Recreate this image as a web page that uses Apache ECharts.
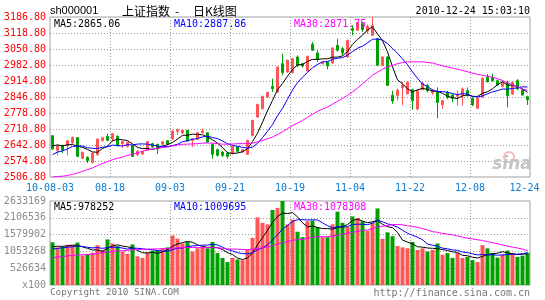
<!DOCTYPE html>
<html><head><meta charset="utf-8">
<script src="https://cdn.jsdelivr.net/npm/echarts@6/dist/echarts.min.js"></script>
<style>html,body{margin:0;padding:0;background:#fff}#c{width:545px;height:300px}</style>
</head><body><div id="c"></div>
<script>
// ---- data ----
const dates = ['08-03','08-04','08-05','08-06','08-09','08-10','08-11','08-12','08-13','08-16','08-17','08-18','08-19','08-20','08-23','08-24','08-25','08-26','08-27','08-30','08-31',
'09-01','09-02','09-03','09-06','09-07','09-08','09-09','09-10','09-13','09-14','09-15','09-16','09-17','09-20','09-21','09-27','09-28','09-29','09-30',
'10-08','10-11','10-12','10-13','10-14','10-15','10-18','10-19','10-20','10-21','10-22','10-25','10-26','10-27','10-28','10-29',
'11-01','11-02','11-03','11-04','11-05','11-08','11-09','11-10','11-11','11-12','11-15','11-16','11-17','11-18','11-19','11-22','11-23','11-24','11-25','11-26','11-29','11-30',
'12-01','12-02','12-03','12-06','12-07','12-08','12-09','12-10','12-13','12-14','12-15','12-16','12-17','12-20','12-21','12-22','12-23','12-24'];
const opens = [2682.5,2620.1,2640.0,2640.0,2651.3,2674.0,2586.1,2590.4,2569.1,2601.7,2661.2,2679.6,2668.3,2679.6,2647.1,2637.1,2640.0,2601.7,2604.5,2620.1,2648.5,2645.6,2645.6,2661.2,
2668.0,2701.0,2693.8,2705.1,2662.6,2666.9,2695.2,2695.2,2645.6,2622.9,2613.0,2608.8,2606.0,2634.3,2613.0,2603.1,2683.9,2761.8,2797.2,2846.8,2892.0,2868.1,2988.5,2953.0,
2950.2,3016.8,2988.5,2957.3,3070.6,3033.8,2988.5,2995.5,2991.3,3066.4,3052.2,3016.8,3137.2,3130.1,3158.5,3127.3,3108.9,3094.7,2981.4,3016.8,2853.9,2853.9,2886.5,2861.0,
2878.0,2795.8,2878.0,2895.0,2863.8,2866.6,2814.2,2866.6,2855.3,2849.6,2852.5,2873.7,2841.1,2798.6,2845.4,2930.4,2930.4,2916.2,2892.1,2906.3,2859.6,2916.2,2878.0,2848.2];
const closes = [2625.8,2640.0,2620.1,2661.2,2675.4,2594.6,2611.6,2576.2,2608.8,2668.3,2674.0,2662.6,2691.0,2640.0,2658.4,2654.1,2594.6,2615.9,2615.9,2657.0,2634.3,2625.8,2657.0,2647.1,
2702.0,2708.0,2705.1,2659.8,2669.7,2695.2,2702.3,2655.6,2603.1,2598.9,2598.9,2594.6,2637.1,2615.9,2622.9,2662.6,2747.6,2815.6,2849.6,2866.6,2882.0,2974.3,2950.2,3002.6,
3009.7,2981.4,2978.5,3019.6,3045.1,3006.9,2995.5,2978.5,3055.0,3045.1,3033.8,3087.6,3130.1,3162.7,3133.0,3147.1,3151.4,2981.4,3016.8,2896.4,2829.8,2875.1,2896.4,2910.6,
2831.2,2873.7,2906.3,2873.7,2876.6,2824.1,2831.2,2845.4,2841.1,2859.6,2880.8,2852.5,2812.8,2841.1,2926.1,2912.0,2916.2,2897.8,2909.1,2852.5,2909.1,2880.8,2855.3,2835.5];
const lows = [2623,2598.9,2608.8,2598.9,2648,2591,2583,2566.3,2563.5,2598,2658,2659,2657,2637,2630,2633,2591.8,2594.6,2600,2617,2631,2604.5,2643,2644,
2665,2685,2690,2657,2634.3,2664,2692,2652,2584.7,2594.6,2591.8,2584.7,2603,2612,2610,2600,2680,2758,2794,2843,2868,2865,2938.9,2950,
2947,2974.3,2972,2954,3042.3,2995,2985,2964,2988,3039.5,3023.9,3013,3109,3127,3123,3115,3105,2978,2978,2893,2818.5,2832.7,2811.4,2858,
2792.9,2790,2875,2866.6,2855,2756.1,2795.8,2838,2824.1,2810,2810,2849,2808,2795.8,2842,2909.1,2912,2894,2888,2802.9,2855,2877,2852,2812.8];
const highs = [2684,2642,2644,2664,2678,2676.8,2614,2594.6,2611,2670,2677,2691,2694,2684,2661,2657,2643,2623,2618,2660,2652,2648,2660,2664,
2706,2713,2708,2708,2672,2698,2712,2698,2650,2627,2616,2613,2640,2637,2626,2665,2750,2818,2852,2870,2924.7,2977,3031,3006,
3013,3023.9,2992,3023,3080.6,3045,2999,2999,3058,3094.7,3059,3091,3151.4,3166,3165.5,3155,3186.7,3098,3020,3020,2873.7,2882.3,2910.6,2914,
2882,2878,2910,2902,2880,2887.9,2834,2873.7,2859.6,2873.7,2887.9,2887.9,2845,2845,2930,2944.6,2944.6,2920,2912,2916.2,2912,2923,2882,2852.5];
const volumes = [1338000,1180000,1200000,1260000,1260000,1330000,927000,970000,1010000,1250000,1100000,1430000,1300000,1220000,1050000,980000,1270000,900000,850000,1020000,1080000,1100000,1150000,1180000,
1550000,1450000,1300000,1350000,1050000,1150000,1200000,1150000,1350000,1000000,850000,720000,850000,800000,780000,1100000,1480000,2120000,1950000,1900000,2350000,2420000,2633169,1900000,
2050000,1670000,1500000,2000000,2020000,1820000,1500000,1500000,1900000,2300000,1950000,1820000,2150000,2100000,2000000,1700000,1950000,2400000,1450000,1650000,1530000,1220000,1180000,1150000,
1350000,1100000,1150000,1050000,1100000,1300000,950000,1000000,850000,1000000,850000,880000,780000,720000,1250000,1150000,1000000,860000,950000,1080000,1000000,880000,920000,1010000];
// sessions before the window, needed only for the moving averages at the left edge
const priorCloses = [2588,2586,2553,2535,2427,2398,2373,2382,2363,2409,2421,2448,2470,2492,2441,2458,2424,2424,2475,2528,2528,2575,2572,2573,2575,2617,2642,2637,2672];
const priorVolumes = [620000,580000,660000,700000,950000,800000,700000,620000,550000,640000,660000,720000,780000,820000,700000,680000,620000,700000,840000,950000,
1020000,1000000,1080000,1120000,1080000,1100000,1220000,1180000,1160000];
const priceTickLabels = ['2506.80','2574.80','2642.80','2710.80','2778.80','2846.80','2914.80','2982.80','3050.80','3118.80','3186.80'];
const volTickLabels = ['x100','526634','1053268','1579902','2106536','2633169'];
const dateTickLabels = ['10-08-03','08-18','09-03','09-21','10-19','11-04','11-22','12-08','12-24'];
const priceLegend = ['MA5:2865.06','MA10:2887.86','MA30:2871.75'];
const volLegend = ['MA5:978252','MA10:1009695','MA30:1078308'];

// ---- build ----
const UP = '#ff5555', DOWN = '#00a000';
const MA_COLORS = ['#000000','#0000ff','#ff00ff'];
const MONO = '"DejaVu Sans Mono", monospace';

function movingAvg(prior, vals, n, digits) {
  const all = prior.concat(vals), off = prior.length;
  return vals.map((_, i) => {
    let s = 0;
    for (let k = off + i - n + 1; k <= off + i; k++) s += all[k];
    return +(s / n).toFixed(digits);
  });
}
const candles = opens.map((o, i) => [o, closes[i], lows[i], highs[i]]);
const volBars = volumes.map((v, i) => ({ value: v, itemStyle: { color: closes[i] >= opens[i] ? UP : DOWN } }));
const N = dates.length;
const tickStep = N / (dateTickLabels.length - 1);
const priceMin = parseFloat(priceTickLabels[0]);
const priceMax = parseFloat(priceTickLabels[priceTickLabels.length - 1]);
const volMax = parseFloat(volTickLabels[volTickLabels.length - 1]);

const grid = { color: '#999999', type: [1, 2], width: 1 };
function auxX(gi, showLabel) {
  return {
    type: 'value', gridIndex: gi, position: 'bottom', min: 0, max: N, interval: tickStep,
    axisLine: { show: false }, axisTick: { show: false },
    splitLine: { show: true, showMinLine: false, showMaxLine: false, lineStyle: grid },
    axisLabel: showLabel ? {
      show: true, margin: 6, color: '#0b7bd0', fontFamily: MONO, fontSize: 10,
      formatter: v => { const k = Math.round(v / tickStep); return k === dateTickLabels.length - 1 ? '{r|' + dateTickLabels[k] + '}' : dateTickLabels[k]; },
      rich: { r: { padding: [0, 11, 0, 0], color: '#0b7bd0', fontFamily: MONO, fontSize: 10 } }
    } : { show: false }
  };
}
function auxY(gi, labels, color) {
  return {
    type: 'value', gridIndex: gi, position: 'left', min: 0, max: labels.length - 1, interval: 1,
    axisLine: { show: false }, axisTick: { show: false },
    splitLine: { show: true, showMinLine: false, showMaxLine: false, lineStyle: grid },
    axisLabel: { show: true, margin: 4, color: color, fontFamily: MONO, fontSize: 10, formatter: v => labels[Math.round(v)] }
  };
}
function maLine(data, c, xi, yi) {
  return { type: 'line', data: data, xAxisIndex: xi, yAxisIndex: yi, showSymbol: false, symbol: 'none', silent: true,
    lineStyle: { color: c, width: 1 }, z: 5 };
}
function txt(text, x, y, color, font, align) {
  return { type: 'text', silent: true, z: 100,
    style: { text: text, x: x, y: y, fill: color, font: font, textAlign: align || 'left', textVerticalAlign: 'middle', align: align || 'left', verticalAlign: 'middle' } };
}

const option = {
  animation: false,
  backgroundColor: '#ffffff',
  grid: [
    { left: 50, top: 17, width: 480, height: 160, show: true, borderColor: '#a0a0a0', borderWidth: 1, backgroundColor: 'transparent' },
    { left: 50, top: 201, width: 480, height: 84, show: true, borderColor: '#a0a0a0', borderWidth: 1, backgroundColor: 'transparent' }
  ],
  xAxis: [
    { type: 'category', gridIndex: 0, position: 'top', data: dates, show: false },
    auxX(0, true),
    { type: 'category', gridIndex: 1, position: 'top', data: dates, show: false },
    auxX(1, false)
  ],
  yAxis: [
    { type: 'value', gridIndex: 0, position: 'right', min: priceMin, max: priceMax, show: false, scale: true },
    auxY(0, priceTickLabels, '#ff0000'),
    { type: 'value', gridIndex: 1, position: 'right', min: 0, max: volMax, show: false },
    auxY(1, volTickLabels, '#8c8c8c')
  ],
  series: [
    { type: 'candlestick', xAxisIndex: 0, yAxisIndex: 0, data: candles, barWidth: 3, z: 3,
      itemStyle: { color: UP, color0: DOWN, borderColor: UP, borderColor0: DOWN, borderWidth: 1 } },
    maLine(movingAvg(priorCloses, closes, 5, 2), MA_COLORS[0], 0, 0),
    maLine(movingAvg(priorCloses, closes, 10, 2), MA_COLORS[1], 0, 0),
    maLine(movingAvg(priorCloses, closes, 30, 2), MA_COLORS[2], 0, 0),
    { type: 'bar', xAxisIndex: 2, yAxisIndex: 2, data: volBars, barWidth: 4, z: 3 },
    maLine(movingAvg(priorVolumes, volumes, 5, 0), MA_COLORS[0], 2, 2),
    maLine(movingAvg(priorVolumes, volumes, 10, 0), MA_COLORS[1], 2, 2),
    maLine(movingAvg(priorVolumes, volumes, 30, 0), MA_COLORS[2], 2, 2)
  ],
  graphic: [
    txt('sh000001', 50, 11, '#000', '11px "Liberation Sans"'),
    txt('上证指数', 122, 11, '#000', '12px "Noto Sans CJK SC"'),
    txt('-', 177, 11, '#000', '12px "Noto Sans CJK SC"', 'center'),
    txt('日K线图', 193, 11, '#000', '12px "Noto Sans CJK SC"'),
    txt('2010-12-24 15:03:10', 530, 11, '#000', '10px ' + MONO, 'right'),
    txt(priceLegend[0], 54, 24, MA_COLORS[0], '10px ' + MONO),
    txt(priceLegend[1], 174, 24, MA_COLORS[1], '10px ' + MONO),
    txt(priceLegend[2], 294, 24, MA_COLORS[2], '10px ' + MONO),
    txt(volLegend[0], 54, 207, MA_COLORS[0], '10px ' + MONO),
    txt(volLegend[1], 174, 207, MA_COLORS[1], '10px ' + MONO),
    txt(volLegend[2], 294, 207, MA_COLORS[2], '10px ' + MONO),
    txt('Copyright 2010 SINA.COM', 50, 293, '#777', '9.3px ' + MONO),
    txt('http://finance.sina.com.cn', 530, 293, '#777', '10px ' + MONO, 'right'),
    { type: 'circle', silent: true, z: 1, shape: { cx: 509, cy: 157, r: 5 }, style: { fill: 'none', stroke: '#f6b8b8', lineWidth: 2 } },
    txt('sina', 512, 165, '#c4c4c4', 'italic bold 17px "DejaVu Sans"', 'center')
  ]
};
const chart = echarts.init(document.getElementById('c'), null, { renderer: 'canvas' });
chart.setOption(option);
</script>
</body></html>
